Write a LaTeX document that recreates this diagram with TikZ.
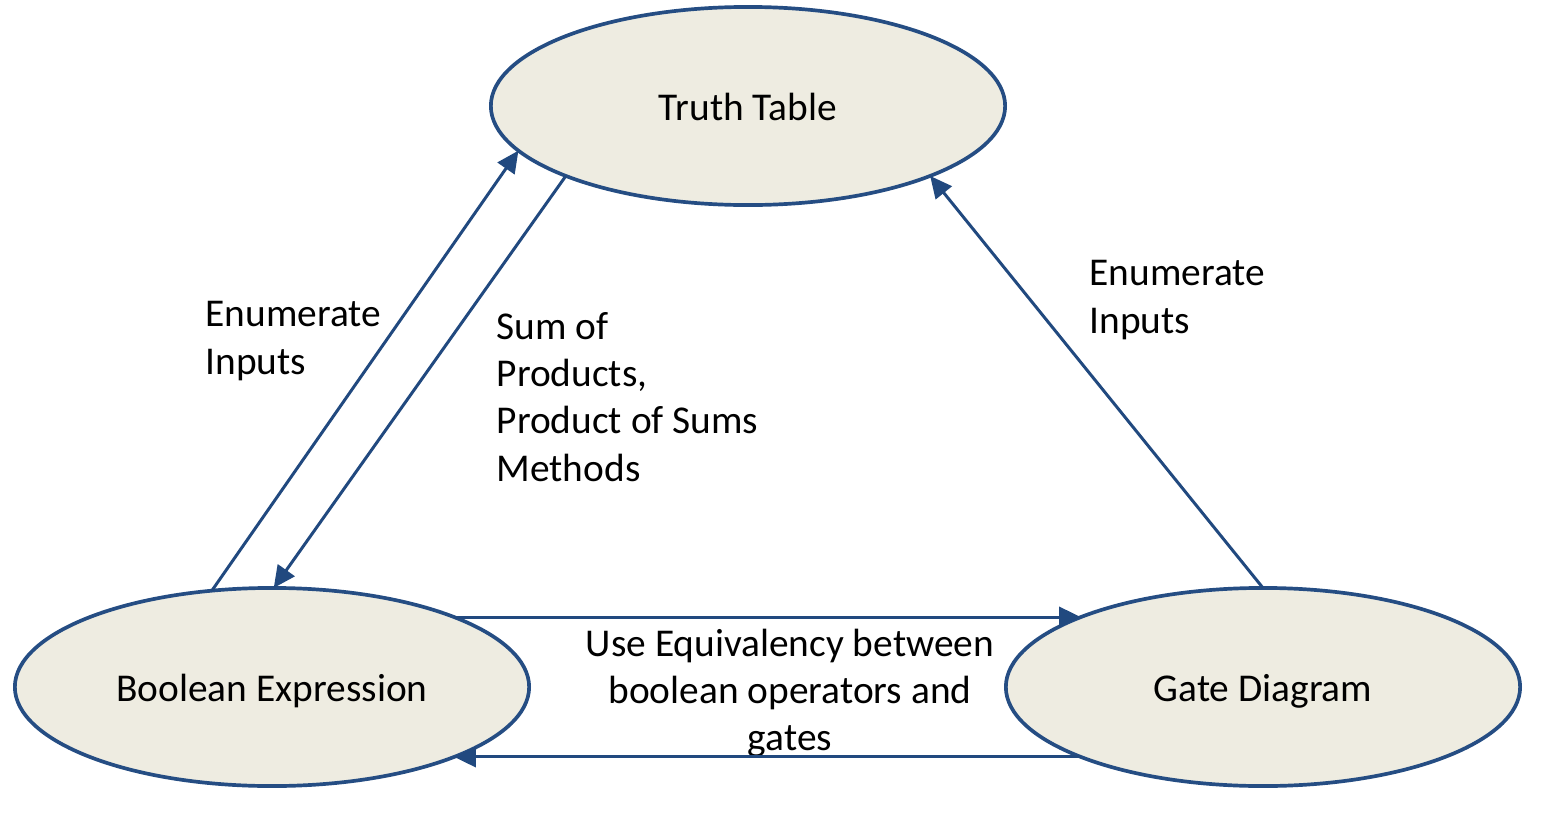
\documentclass[tikz,border=0pt]{standalone}
\usepackage{fontspec}
\setmainfont{Carlito}
\usetikzlibrary{shapes.geometric,arrows.meta}
\definecolor{ovalfill}{HTML}{EEECE1}
\definecolor{ovalline}{HTML}{254D83}
\definecolor{arrowblue}{HTML}{21497F}

\begin{document}
\begin{tikzpicture}[x=0.01cm, y=-0.01cm, font=\fontsize{11.2}{13.4}\selectfont, >={Triangle[length=6.2pt,width=5.8pt]}]
	% Define styles
	\tikzstyle{form} = [ellipse, draw=ovalline, line width=1.05pt, fill=ovalfill, minimum width=5.14cm, minimum height=1.98cm, inner sep=0pt, outer sep=0pt]
	\tikzstyle{note} = [align=left, anchor=north west, inner sep=0pt]
	\tikzstyle{conv} = [->, draw=arrowblue, line width=0.85pt]

	\useasboundingbox (0,0) rectangle (1541,830);

	% Nodes
	\node[form] (truth) at (748,106) {\raisebox{-0.4pt}[\height][\depth]{Truth Table}};
	\node[form] (bool) at (272,687) {\raisebox{-1.2pt}[\height][\depth]{Boolean Expression}};
	\node[form] (gate) at (1263,687) {\raisebox{-1.2pt}[\height][\depth]{Gate Diagram}};

	% Labels
	\node[note] (enumleft) at (205,301) {Enumerate\\Inputs};
	\node[note] (sop) at (496,312) {Sum of\\Products,\\Product of Sums\\Methods};
	\node[note] (enumright) at (1089,260) {Enumerate\\Inputs};
	\node[note, align=center, anchor=north] (equiv) at (790,628) {Use Equivalency between\\boolean operators and\\gates};

	% Arrows
	\draw[conv] (bool.122) -- (truth.191);
	\draw[conv] (truth.201) -- (bool.89);
	\draw[conv] (gate.90) -- (truth.339);
	\draw[conv] (bool.21) -- (gate.159);
	\draw[conv] (gate.201) -- (bool.339);
\end{tikzpicture}
\end{document}
